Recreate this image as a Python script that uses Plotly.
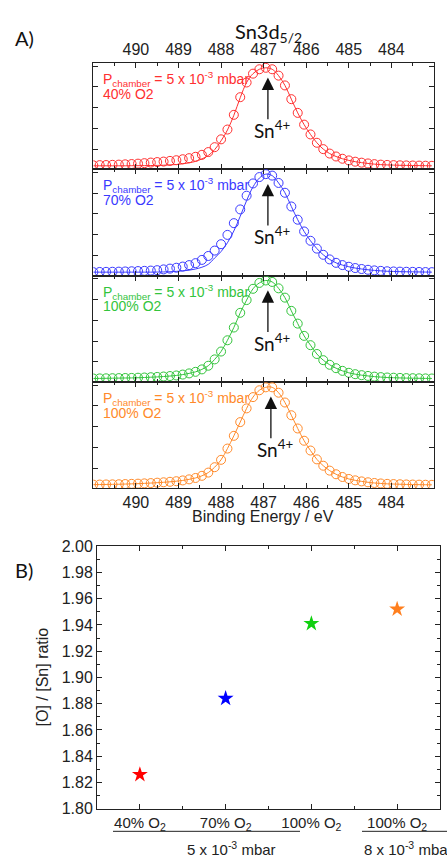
import plotly.graph_objects as go

W, H = 447, 856

# ---------------- data ----------------
energy = [round(491.0 - 0.15 * i, 2) for i in range(54)]

red_data = [0.005, 0.007, 0.008, 0.010, 0.012, 0.015, 0.018, 0.022, 0.027, 0.033,
            0.038, 0.043, 0.050, 0.057, 0.067, 0.078, 0.092, 0.112, 0.140, 0.190,
            0.270, 0.370, 0.520, 0.700, 0.850, 0.940, 0.985, 1.000,
            0.985, 0.920, 0.820, 0.680, 0.540, 0.420, 0.320, 0.235, 0.170, 0.125,
            0.095, 0.072, 0.055, 0.042, 0.032, 0.024, 0.017, 0.012, 0.009, 0.007,
            0.005, 0.004, 0.003, 0.002, 0.001, 0.000]
red_fit = [0.0, 0.0, 0.0, 0.0, 0.0, 0.0, 0.001, 0.001, 0.002, 0.003,
           0.004, 0.006, 0.009, 0.013, 0.020, 0.030, 0.045, 0.070, 0.105, 0.165,
           0.255, 0.365, 0.515, 0.695, 0.850, 0.940, 0.985, 1.000,
           0.985, 0.920, 0.820, 0.680, 0.540, 0.420, 0.320, 0.235, 0.170, 0.125,
           0.095, 0.072, 0.055, 0.042, 0.032, 0.024, 0.017, 0.012, 0.009, 0.007,
           0.005, 0.004, 0.003, 0.002, 0.001, 0.000]

blue_data = [0.000, 0.002, 0.003, 0.004, 0.005, 0.007, 0.009, 0.011, 0.013, 0.016,
             0.020, 0.028, 0.036, 0.045, 0.057, 0.072, 0.092, 0.125, 0.165, 0.220,
             0.285, 0.380, 0.500, 0.640, 0.780, 0.905, 0.970, 1.000,
             0.985, 0.910, 0.810, 0.670, 0.535, 0.415, 0.320, 0.240, 0.177, 0.130,
             0.095, 0.072, 0.055, 0.042, 0.032, 0.024, 0.018, 0.013, 0.009, 0.007,
             0.005, 0.004, 0.003, 0.002, 0.001, 0.000]
blue_fit = [0.0, 0.0, 0.0, 0.0, 0.0, 0.0, 0.0, 0.0, 0.0, 0.0,
            0.001, 0.002, 0.004, 0.008, 0.013, 0.020, 0.032, 0.050, 0.080, 0.145,
            0.210, 0.300, 0.420, 0.570, 0.730, 0.870, 0.960, 1.000,
            0.985, 0.910, 0.810, 0.670, 0.535, 0.415, 0.320, 0.240, 0.177, 0.130,
            0.095, 0.072, 0.055, 0.042, 0.032, 0.024, 0.018, 0.013, 0.009, 0.007,
            0.005, 0.004, 0.003, 0.002, 0.001, 0.000]

green_data = [0.000, 0.001, 0.002, 0.003, 0.004, 0.005, 0.006, 0.008, 0.010, 0.013,
              0.016, 0.020, 0.025, 0.031, 0.040, 0.052, 0.068, 0.093, 0.130, 0.195,
              0.275, 0.390, 0.520, 0.670, 0.800, 0.915, 0.975, 1.000,
              0.985, 0.920, 0.825, 0.690, 0.560, 0.435, 0.340, 0.250, 0.187, 0.140,
              0.105, 0.078, 0.058, 0.044, 0.034, 0.026, 0.019, 0.014, 0.010, 0.008,
              0.006, 0.004, 0.003, 0.002, 0.001, 0.000]

orange_data = [0.002, 0.003, 0.004, 0.005, 0.006, 0.008, 0.010, 0.012, 0.015, 0.018,
               0.022, 0.026, 0.031, 0.037, 0.045, 0.056, 0.070, 0.092, 0.125, 0.180,
               0.255, 0.370, 0.500, 0.640, 0.780, 0.895, 0.965, 0.995,
               0.995, 0.940, 0.840, 0.710, 0.575, 0.450, 0.350, 0.260, 0.195, 0.145,
               0.108, 0.080, 0.060, 0.046, 0.035, 0.026, 0.019, 0.014, 0.010, 0.008,
               0.006, 0.004, 0.003, 0.002, 0.001, 0.000]

panel_data = [red_data, blue_data, green_data, orange_data]
panel_fit = [red_fit, blue_fit, green_data, orange_data]
panel_colors = ["#ff3030", "#3a3aff", "#33c43c", "#ff8a2a"]
panel_o2 = ["40% O2", "70% O2", "100% O2", "100% O2"]
peak_position = [486.9, 486.9, 486.9, 486.83]

energy_ticks = [490, 489, 488, 487, 486, 485, 484]

ratio_categories = ["40% O<sub>2</sub>", "70% O<sub>2</sub>",
                    "100% O<sub>2</sub>", "100% O<sub>2</sub>"]
ratio_values = [1.826, 1.884, 1.941, 1.952]
ratio_colors = ["#ff0000", "#0000ff", "#10d010", "#ff7f1e"]

# ---------------- layout helpers ----------------
def py(p):
    return 1 - p / H

def px(p):
    return p / W

FONT = "Liberation Sans, Arial, sans-serif"
CAL = "Lato, Carlito, sans-serif"
AX = "#222222"

panel_top = [56, 164.5, 273, 381.5]
panel_h = 108.5
xA = [px(93.3), px(434)]

fig = go.Figure()
layout = dict(
    width=W, height=H, margin=dict(l=0, r=0, t=0, b=0),
    paper_bgcolor="white", plot_bgcolor="white", showlegend=False,
    font=dict(family=FONT, size=16, color="#222"),
)
annotations = []
shapes = []

for i in range(4):
    xn = "x" if i == 0 else f"x{i+1}"
    yn = "y" if i == 0 else f"y{i+1}"
    xk = "xaxis" if i == 0 else f"xaxis{i+1}"
    yk = "yaxis" if i == 0 else f"yaxis{i+1}"
    c = panel_colors[i]
    fig.add_trace(go.Scatter(
        x=energy, y=panel_data[i], mode="markers", xaxis=xn, yaxis=yn,
        marker=dict(symbol="circle-open", size=9, color=c, line=dict(width=1, color=c)),
        cliponaxis=True))
    fig.add_trace(go.Scatter(
        x=energy, y=panel_fit[i], mode="lines", xaxis=xn, yaxis=yn,
        line=dict(color=c, width=1, shape="spline"), cliponaxis=True))
    top = panel_top[i]
    layout[xk] = dict(
        domain=xA, anchor=yn, range=[491, 483], showline=True, linecolor=AX,
        linewidth=1, mirror="allticks", ticks="inside", ticklen=5, tickcolor=AX,
        tickmode="array", tickvals=energy_ticks,
        minor=dict(dtick=0.5, tick0=484, ticks="inside", ticklen=3, tickcolor=AX),
        showticklabels=(i == 0 or i == 3), side="top" if i == 0 else "bottom",
        showgrid=False, zeroline=False, tickfont=dict(size=16, family=FONT, color="#222"),
    )
    layout[yk] = dict(
        domain=[py(top + panel_h), py(top)], anchor=xn, range=[-0.035, 1.05],
        showticklabels=False, ticks="inside", tick0=0.17, dtick=0.212, ticklen=5,
        tickcolor=AX, mirror="allticks", showline=True, linecolor=AX, linewidth=1,
        zeroline=False, showgrid=False,
    )
    annotations.append(dict(
        xref="paper", yref="paper", x=px(100.5), y=py(top + 16.5), xanchor="left",
        yanchor="middle", showarrow=False,
        text="P<sub>chamber</sub> = 5 x 10<sup>-3</sup> mbar",
        font=dict(size=14, family=FONT, color=c)))
    annotations.append(dict(
        xref="paper", yref="paper", x=px(100.5), y=py(top + 31.5), xanchor="left",
        yanchor="middle", showarrow=False, text=panel_o2[i],
        font=dict(size=14, family=FONT, color=c)))
    pk = peak_position[i]
    annotations.append(dict(
        xref=xn, yref=yn, x=pk, y=0.90, ax=pk, ay=0.46, axref=xn, ayref=yn,
        showarrow=True, arrowhead=2, arrowsize=1.9, arrowwidth=1.3,
        arrowcolor="#111", text=""))
    annotations.append(dict(
        xref=xn, yref=yn, x=pk + 0.37, y=0.37, xanchor="left", yanchor="middle",
        showarrow=False, text="Sn<sup>4+</sup>",
        font=dict(size=19, family=CAL, color="#111")))

# Panel B
fig.add_trace(go.Scatter(
    x=[0, 1, 2, 3], y=ratio_values, mode="markers", xaxis="x5", yaxis="y5",
    marker=dict(symbol="star", size=12, color=ratio_colors, line=dict(width=0))))

layout["xaxis5"] = dict(
    domain=[px(97), px(440)], anchor="y5", range=[-0.5, 3.5],
    tickmode="array", tickvals=[0, 1, 2, 3], ticktext=ratio_categories,
    showline=True, linecolor=AX, linewidth=1, mirror="allticks",
    ticks="inside", ticklen=5, tickcolor=AX,
    minor=dict(dtick=0.5, tick0=0, ticks="inside", ticklen=3, tickcolor=AX),
    showgrid=False, zeroline=False, tickfont=dict(size=15, family=FONT, color="#222"),
)
layout["yaxis5"] = dict(
    domain=[py(817), py(549)], anchor="x5", range=[1.8, 2.0],
    dtick=0.02, tick0=1.8, tickformat=".2f",
    showline=True, linecolor=AX, linewidth=1, mirror="allticks",
    ticks="inside", ticklen=5, tickcolor=AX,
    minor=dict(dtick=0.01, ticks="inside", ticklen=3, tickcolor=AX),
    showgrid=False, zeroline=False, tickfont=dict(size=16, family=FONT, color="#222"),
)

# texts
annotations += [
    dict(xref="paper", yref="paper", x=px(13), y=py(31), xanchor="left", yanchor="middle",
         text="A)", showarrow=False, font=dict(size=20, family=CAL, color="#111")),
    dict(xref="paper", yref="paper", x=px(13), y=py(573), xanchor="left", yanchor="middle",
         text="B)", showarrow=False, font=dict(size=20, family=CAL, color="#111")),
    dict(xref="paper", yref="paper", x=px(268), y=py(25), xanchor="center", yanchor="middle",
         text="Sn3d<sub>5/2</sub>", showarrow=False, font=dict(size=20, family=CAL, color="#111")),
    dict(xref="paper", yref="paper", x=px(263), y=py(518.5), xanchor="center", yanchor="middle",
         text="Binding Energy / eV", showarrow=False, font=dict(size=16, family=FONT, color="#222")),
    dict(xref="paper", yref="paper", x=px(42), y=py(683), xanchor="center", yanchor="middle",
         text="[O] / [Sn] ratio", textangle=-90, showarrow=False,
         font=dict(size=16, family=FONT, color="#222")),
    dict(xref="paper", yref="paper", x=px(231), y=py(846), xanchor="center", yanchor="top",
         text="5 x 10<sup>-3</sup> mbar", showarrow=False,
         font=dict(size=15, family=FONT, color="#222")),
    dict(xref="paper", yref="paper", x=px(362), y=py(846), xanchor="left", yanchor="top",
         text="8 x 10<sup>-3</sup> mbar", showarrow=False,
         font=dict(size=15, family=FONT, color="#222")),
]
shapes += [
    dict(type="line", xref="paper", yref="paper", x0=px(113), x1=px(300),
         y0=py(840), y1=py(840), line=dict(color="#222", width=1)),
    dict(type="line", xref="paper", yref="paper", x0=px(362), x1=px(447),
         y0=py(840), y1=py(840), line=dict(color="#222", width=1)),
]

layout["annotations"] = annotations
layout["shapes"] = shapes
fig.update_layout(**layout)
fig.write_html("out.html", config={"displayModeBar": False},
               post_script="document.body.style.margin='0px';document.body.style.overflow='hidden';")
